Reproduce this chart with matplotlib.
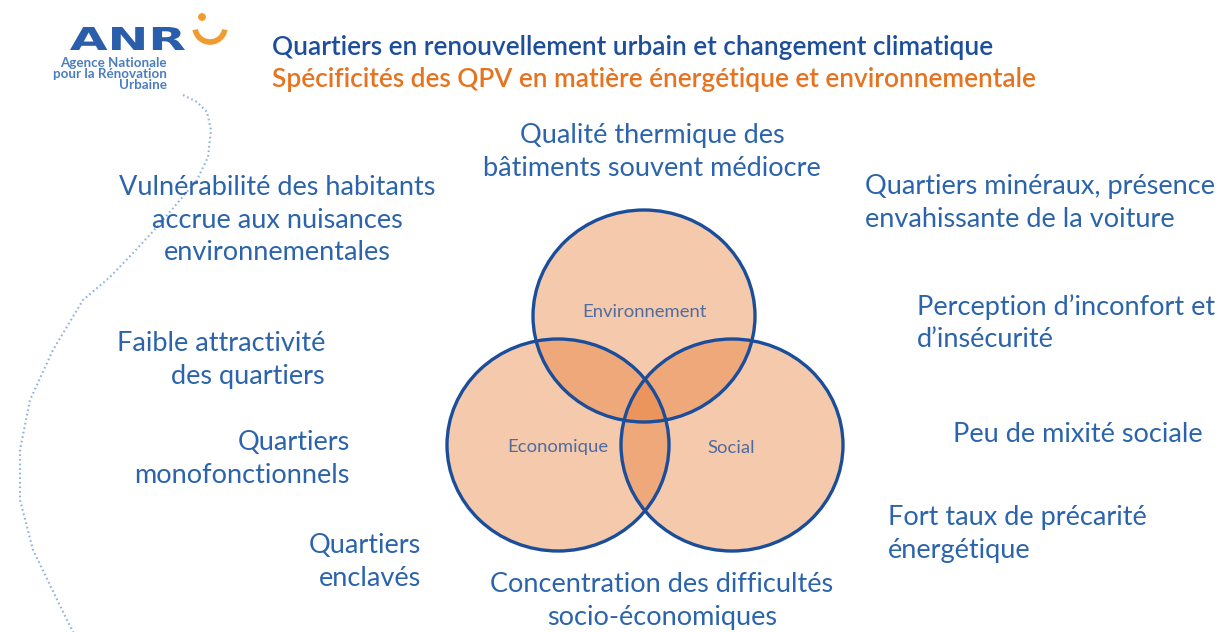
import matplotlib
matplotlib.use("Agg")
import matplotlib.pyplot as plt
import matplotlib.patches as patches
from matplotlib.textpath import TextPath
from matplotlib.font_manager import FontProperties
from matplotlib.transforms import Affine2D

plt.rcParams['font.family'] = ['Lato', 'DejaVu Sans']

# --- content -------------------------------------------------------------
title = "Quartiers en renouvellement urbain et changement climatique"
subtitle = "Spécificités des QPV en matière énergétique et environnementale"

circle_names = ["Environnement", "Economique", "Social"]
circle_centers = [(644, 316), (558, 445), (732, 445)]
circle_size = (222, 212)

# (text, x, y, alignment)
labels = [
    ("Qualité thermique des\nbâtiments souvent médiocre", 652, 152, "center"),
    ("Vulnérabilité des habitants\naccrue aux nuisances\nenvironnementales", 277, 220, "center"),
    ("Quartiers minéraux, présence\nenvahissante de la voiture", 865, 203, "left"),
    ("Perception d\u2019inconfort et\nd\u2019insécurité", 917, 323, "left"),
    ("Faible attractivité\ndes quartiers", 325, 360, "right"),
    ("Quartiers\nmonofonctionnels", 350, 459, "right"),
    ("Peu de mixité sociale", 953, 435, "left"),
    ("Fort taux de précarité\nénergétique", 888, 534, "left"),
    ("Quartiers\nenclavés", 421, 562, "right"),
    ("Concentration des difficultés\nsocio-économiques", 662, 601, "center"),
]

logo_lines = "Agence Nationale\npour la Rénovation\nUrbaine"

# decorative dotted arc (pixel positions)
arc_x = [183, 197, 207, 211, 208, 197, 180, 157, 133, 110, 83, 53, 30, 20, 20, 33, 67, 74]
arc_y = [95, 102, 112, 130, 157, 180, 200, 227, 253, 277, 300, 350, 400, 450, 500, 550, 620, 634]

text_blue = "#2B64AC"
dark_blue = "#1C4E9C"
orange = "#E6731F"
edge_blue = "#1A4D9A"

# --- figure --------------------------------------------------------------
fig = plt.figure(figsize=(12.18, 6.32), dpi=100)
ax = fig.add_axes([0, 0, 1, 1])
ax.set_xlim(0, 1218)
ax.set_ylim(632, 0)
ax.axis("off")

# dotted arc
ax.plot(arc_x, arc_y, linestyle=(0, (0.8, 1.4)), color="#8FB1E0", lw=1.5, zorder=1)

# circles: fills first, then outlines
for (cx, cy) in circle_centers:
    ax.add_patch(patches.Ellipse((cx, cy), circle_size[0], circle_size[1],
                                 facecolor="#E6782F", alpha=0.4, edgecolor="none", zorder=2))
for (cx, cy) in circle_centers:
    ax.add_patch(patches.Ellipse((cx, cy), circle_size[0], circle_size[1],
                                 facecolor="none", edgecolor=edge_blue, lw=2.4, zorder=3))
label_offsets = [(0, -4), (0, 2), (-1, 3)]
for name, (cx, cy), (dx, dy) in zip(circle_names, circle_centers, label_offsets):
    ax.text(cx + dx, cy + dy, name, ha="center", va="center", fontsize=13.3,
            color="#4F6BA0", zorder=4)

# title
ax.text(272, 47, title, ha="left", va="center", fontsize=18.9, fontweight="semibold",
        color=dark_blue)
ax.text(272, 79, subtitle, ha="left", va="center", fontsize=18.9, fontweight="semibold",
        color=orange)

# surrounding labels
for txt, x, y, al in labels:
    ax.text(x, y, txt, ha=al, va="center", multialignment=al, fontsize=19.5,
            color=text_blue, linespacing=1.36, zorder=5)

# logo: stretched "ANR" + orange smile
tp = TextPath((0, 0), "ANR", size=1, prop=FontProperties(family="DejaVu Sans", weight="bold"))
ext = tp.get_extents()
sx = 115 / ext.width
sy = 23 / ext.height
tr = Affine2D().translate(-ext.x0, -ext.y0).scale(sx, -sy).translate(70, 50)
ax.add_patch(patches.PathPatch(tr.transform_path(tp), facecolor="#2A5DAA", edgecolor="none"))
ax.add_patch(patches.Arc((210, 27), 30, 30, theta1=10, theta2=170, color="#F29A2E", lw=4))
ax.add_patch(patches.Circle((202, 17), 3.2, color="#F29A2E"))
ax.text(167, 74, logo_lines, ha="right", va="center", multialignment="right",
        fontsize=9.6, fontweight="bold", color="#4A7DC0", linespacing=0.88)

fig.savefig("out.png", dpi=100)
